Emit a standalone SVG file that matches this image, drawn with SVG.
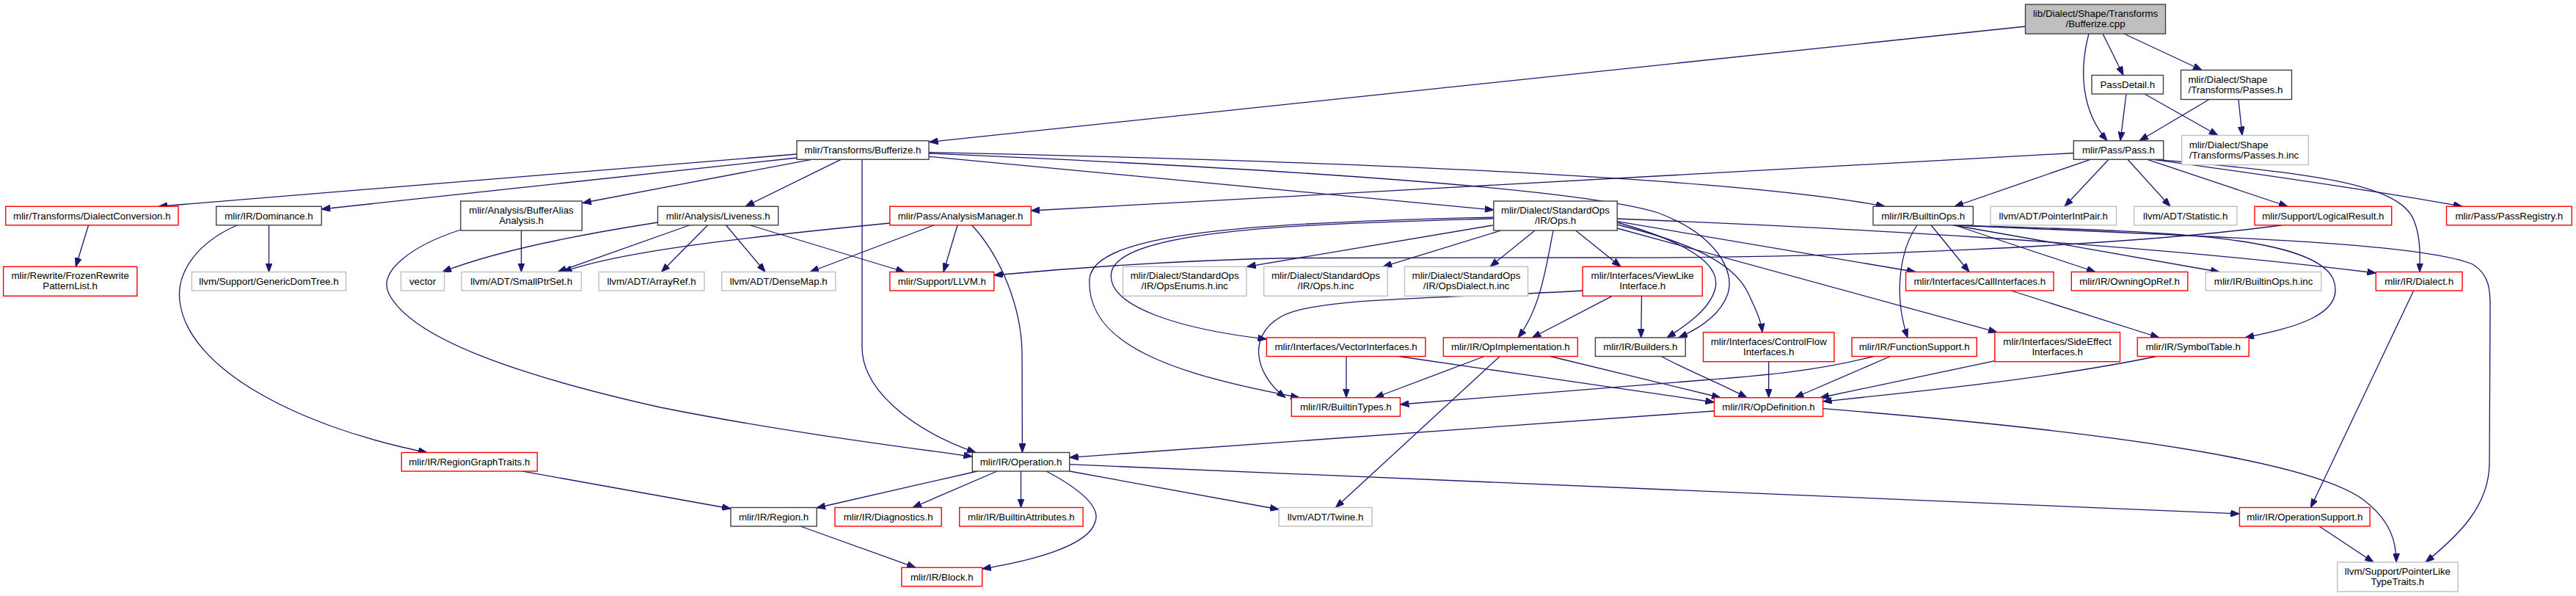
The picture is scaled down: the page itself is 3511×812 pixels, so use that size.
<svg xmlns="http://www.w3.org/2000/svg" width="3511" height="812" viewBox="0 0 3511 812">
<style>
.e{fill:none;stroke:#191970;stroke-width:1.3;marker-end:url(#a)}
rect{fill:#fff;stroke-width:1.4}
.k rect{stroke:#404040}
.r rect{stroke:#ff0000}
.g rect{stroke:#bfbfbf}
.root rect{fill:#bfbfbf;stroke:#404040}
text{font-family:"Liberation Sans",Arial,Helvetica,sans-serif;font-size:13.3px;fill:#000;text-anchor:middle}
text.l{text-anchor:start}
</style>
<defs>
<marker id="a" markerUnits="userSpaceOnUse" markerWidth="12" markerHeight="9" refX="12" refY="4.5" orient="auto" viewBox="0 0 12 9"><path d="M0,0 L12,4.5 L0,9 z" fill="#191970" stroke="#191970" stroke-width="1"/></marker>
</defs>
<rect x="0" y="0" width="3511" height="812" style="fill:#fff;stroke:none"/>
<g id="connectors">
<path class="e" d="M2760.5,36 L1266.5,193.5"/>
<path class="e" d="M2847,46 C2834,95 2836,150 2872,191.7"/>
<path class="e" d="M2866,46 L2894,102.5"/>
<path class="e" d="M2895,46 L3001,95.5"/>
<path class="e" d="M2898,128 L2890,191.7"/>
<path class="e" d="M2923,128 L3023,184.5"/>
<path class="e" d="M3011,135.5 L2916,191.7"/>
<path class="e" d="M3051,135.5 L3056,184.5"/>
<path class="e" d="M2826.3,208.5 L1405.3,287"/>
<path class="e" d="M2849,217.3 L2664,281.25"/>
<path class="e" d="M2874,217.3 L2814,281.25"/>
<path class="e" d="M2900,217.3 L2958,281.25"/>
<path class="e" d="M2927,217.3 L3118,281.25"/>
<path class="e" d="M2935,217.3 C3100,240 3250,262 3356,281.25"/>
<path class="e" d="M2940,217.3 C3150,236 3270,250 3290,300 C3300,325 3298,350 3298,370.5"/>
<path class="e" d="M1086,210 L216,281.25"/>
<path class="e" d="M1086,215 L438.2,285"/>
<path class="e" d="M1106,217.3 L794,276.5"/>
<path class="e" d="M1146,217.3 L1016,281.25"/>
<path class="e" d="M1175,217.3 L1175,473 C1175,530 1240,585 1330,616.5"/>
<path class="e" d="M1266,213.3 L2035.8,286"/>
<path class="e" d="M1266,207.5 Q2300,230 2569,281.25"/>
<path class="e" d="M1266,209 C1700,228 2150,255 2260,290 C2340,320 2365,370 2355,400 C2345,430 2315,448 2288,460"/>
<path class="e" d="M2204,303 C2300,330 2345,360 2338,392 C2332,420 2300,442 2272,460"/>
<path class="e" d="M2035.8,306.7 L1699.6,363.3"/>
<path class="e" d="M2046,314 L1885,363.3"/>
<path class="e" d="M2092,314 L2031,363.3"/>
<path class="e" d="M2147.6,314 L2209,363.3"/>
<path class="e" d="M2117,314 C2108,360 2100,420 2069,460"/>
<path class="e" d="M2035.8,297.7 C1800,305 1530,310 1515,370 C1505,420 1620,450 1726.4,462"/>
<path class="e" d="M2035.8,296 C1700,303 1490,318 1485,380 C1480,470 1600,510 1771,541.75"/>
<path class="e" d="M2204.2,301.7 L2611,370.5"/>
<path class="e" d="M2204.2,306 C2280,325 2360,350 2383,400 C2392,420 2400,435 2402,452.7"/>
<path class="e" d="M2204.2,311 L2722,452.7"/>
<path class="e" d="M2204.2,298 C2500,310 2900,330 3238.3,372"/>
<path class="e" d="M2632,306.75 L2684,370.5"/>
<path class="e" d="M2613,306.75 C2590,340 2580,400 2600,460"/>
<path class="e" d="M2664,306.75 L2856,370.5"/>
<path class="e" d="M2662,306.75 C2900,315 3150,315 3180,380 C3200,430 3120,448 3060,460"/>
<path class="e" d="M2662,306.75 C3000,322 3300,330 3370,360 C3395,375 3394,400 3394,420 L3393,630 C3393,690 3350,730 3306,766"/>
<path class="e" d="M2662,306.75 L3025,370.5"/>
<path class="e" d="M3110,306.75 C2900,335 2500,352 2200,351 L1760,351.5 C1600,355 1450,366 1354.8,375"/>
<path class="e" d="M896.5,303 C800,318 680,340 603,370.5"/>
<path class="e" d="M940,306.75 L760,370.5"/>
<path class="e" d="M964.6,306.75 L901.5,370.5"/>
<path class="e" d="M989.5,306.75 L1043,370.5"/>
<path class="e" d="M1022,306.75 L1233,370.5"/>
<path class="e" d="M710.5,314 L710.5,370.5"/>
<path class="e" d="M628,313 C560,335 515,370 530,400 C560,460 700,510 900,555 C1050,585 1200,605 1325.3,622"/>
<path class="e" d="M323.4,306.75 C270,330 240,370 245,410 C255,500 400,580 582,616.5"/>
<path class="e" d="M366.5,306.75 L366.5,370.5"/>
<path class="e" d="M120.6,306.75 L103.3,363.3"/>
<path class="e" d="M1212.8,304 C1050,320 850,340 767.5,370.5"/>
<path class="e" d="M1273,306.75 L1104,370.5"/>
<path class="e" d="M1305,306.75 L1286,370.5"/>
<path class="e" d="M1324.6,306.75 C1365,350 1392,420 1393,480 L1393.4,616.5"/>
<path class="e" d="M1332,642 L1113,692"/>
<path class="e" d="M1359,642 L1244,691.5"/>
<path class="e" d="M1391.5,642 L1391.5,691.5"/>
<path class="e" d="M1426,642 C1470,665 1500,690 1493,710 C1485,745 1400,765 1338.7,775"/>
<path class="e" d="M1458,642 L1743,694"/>
<path class="e" d="M1457.7,632.7 L3052.4,700"/>
<path class="e" d="M1091,717 L1248,773.3"/>
<path class="e" d="M710,641.7 L996,693"/>
<path class="e" d="M2336.5,560 L1457.7,623.3"/>
<path class="e" d="M2484.6,556.7 C2900,590 3150,630 3220,680 C3260,710 3266,740 3266,766"/>
<path class="e" d="M3289.7,396 L3149.4,691.5"/>
<path class="e" d="M3161,717 L3235,766"/>
<path class="e" d="M2939,485.5 C2800,515 2600,535 2484.6,547"/>
<path class="e" d="M2718.8,491.7 L2481,541.75"/>
<path class="e" d="M2576.4,485.5 L2446.3,541.75"/>
<path class="e" d="M2410.7,492.7 L2410.7,541.75"/>
<path class="e" d="M2264.3,485.5 C2300,505 2340,520 2381,541.75"/>
<path class="e" d="M2113,485.5 L2345,541.75"/>
<path class="e" d="M1906.5,485.5 L2336.5,548"/>
<path class="e" d="M2741,396 L2943,460"/>
<path class="e" d="M2553.4,485.5 C2480,505 2400,512 2320,518 L1908.4,551"/>
<path class="e" d="M2197.3,403.3 L2088.3,460"/>
<path class="e" d="M2237.5,403.3 L2236.7,460"/>
<path class="e" d="M2157,396 C1950,408 1790,405 1745,432 C1700,458 1710,510 1752,541.75"/>
<path class="e" d="M1834.9,485.5 L1834.9,541.75"/>
<path class="e" d="M2023.2,485.5 L1874,541.75"/>
<path class="e" d="M2044.2,485.5 L1820.4,691.5"/>
</g>
<g id="n_root" class="root"><rect x="2760.5" y="6" width="191" height="40"/><text x="2856" y="23">lib/Dialect/Shape/Transforms</text><text x="2856" y="37">/Bufferize.cpp</text></g>
<g id="n_passdetail" class="k"><rect x="2851" y="102.5" width="97.5" height="25.5"/><text x="2899.8" y="120">PassDetail.h</text></g>
<g id="n_passes" class="k"><rect x="2972.5" y="95.5" width="151" height="40"/><text class="l" x="2982.5" y="112.5">mlir/Dialect/Shape</text><text class="l" x="2982.5" y="126.5">/Transforms/Passes.h</text></g>
<g id="n_bufferize_h" class="k"><rect x="1086" y="191.75" width="180" height="25.5"/><text x="1176" y="209.2">mlir/Transforms/Bufferize.h</text></g>
<g id="n_pass_h" class="k"><rect x="2826.3" y="191.75" width="122.4" height="25.5"/><text x="2887.5" y="209.2">mlir/Pass/Pass.h</text></g>
<g id="n_passes_inc" class="g"><rect x="2973.7" y="184.5" width="172.6" height="40"/><text class="l" x="2983.7" y="201.5">mlir/Dialect/Shape</text><text class="l" x="2983.7" y="215.5">/Transforms/Passes.h.inc</text></g>
<g id="n_dialectconv" class="r"><rect x="7.7" y="281.25" width="235.3" height="25.5"/><text x="125.35" y="298.7">mlir/Transforms/DialectConversion.h</text></g>
<g id="n_dominance" class="k"><rect x="294.7" y="281.25" width="143.5" height="25.5"/><text x="366.45" y="298.7">mlir/IR/Dominance.h</text></g>
<g id="n_bufferalias" class="k"><rect x="627.8" y="274" width="165.4" height="40"/><text x="710.5" y="291">mlir/Analysis/BufferAlias</text><text x="710.5" y="305">Analysis.h</text></g>
<g id="n_liveness" class="k"><rect x="896.5" y="281.25" width="164.2" height="25.5"/><text x="978.6" y="298.7">mlir/Analysis/Liveness.h</text></g>
<g id="n_analysismgr" class="r"><rect x="1212.8" y="281.25" width="192.5" height="25.5"/><text x="1309.05" y="298.7">mlir/Pass/AnalysisManager.h</text></g>
<g id="n_stdops" class="k"><rect x="2035.8" y="274" width="168.4" height="40"/><text x="2120" y="291">mlir/Dialect/StandardOps</text><text x="2120" y="305">/IR/Ops.h</text></g>
<g id="n_builtinops" class="k"><rect x="2553" y="281.25" width="136.3" height="25.5"/><text x="2621.15" y="298.7">mlir/IR/BuiltinOps.h</text></g>
<g id="n_pointerintpair" class="g"><rect x="2713" y="281.25" width="171.5" height="25.5"/><text x="2798.75" y="298.7">llvm/ADT/PointerIntPair.h</text></g>
<g id="n_statistic" class="g"><rect x="2908.6" y="281.25" width="140.3" height="25.5"/><text x="2978.75" y="298.7">llvm/ADT/Statistic.h</text></g>
<g id="n_logicalresult" class="r"><rect x="3073" y="281.25" width="186.7" height="25.5"/><text x="3166.35" y="298.7">mlir/Support/LogicalResult.h</text></g>
<g id="n_passregistry" class="r"><rect x="3334.5" y="281.25" width="170.7" height="25.5"/><text x="3419.85" y="298.7">mlir/Pass/PassRegistry.h</text></g>
<g id="n_frozen" class="r"><rect x="4.6" y="363.3" width="182.2" height="40"/><text x="95.7" y="380.3">mlir/Rewrite/FrozenRewrite</text><text x="95.7" y="394.3">PatternList.h</text></g>
<g id="n_genericdomtree" class="g"><rect x="261.4" y="370.5" width="210.1" height="25.5"/><text x="366.45" y="388">llvm/Support/GenericDomTree.h</text></g>
<g id="n_vector" class="g"><rect x="546.5" y="370.5" width="59.1" height="25.5"/><text x="576.05" y="388">vector</text></g>
<g id="n_smallptrset" class="g"><rect x="629" y="370.5" width="163.4" height="25.5"/><text x="710.7" y="388">llvm/ADT/SmallPtrSet.h</text></g>
<g id="n_arrayref" class="g"><rect x="816.1" y="370.5" width="143.9" height="25.5"/><text x="888.05" y="388">llvm/ADT/ArrayRef.h</text></g>
<g id="n_densemap" class="g"><rect x="983.7" y="370.5" width="155" height="25.5"/><text x="1061.2" y="388">llvm/ADT/DenseMap.h</text></g>
<g id="n_llvm_h" class="r"><rect x="1212.8" y="370.5" width="142" height="25.5"/><text x="1283.8" y="388">mlir/Support/LLVM.h</text></g>
<g id="n_opsenums" class="g"><rect x="1530.5" y="363.3" width="168.3" height="40"/><text x="1614.65" y="380.3">mlir/Dialect/StandardOps</text><text x="1614.65" y="394.3">/IR/OpsEnums.h.inc</text></g>
<g id="n_opsinc" class="g"><rect x="1722.6" y="363.3" width="168.6" height="40"/><text x="1806.9" y="380.3">mlir/Dialect/StandardOps</text><text x="1806.9" y="394.3">/IR/Ops.h.inc</text></g>
<g id="n_opsdialect" class="g"><rect x="1914.5" y="363.3" width="168" height="40"/><text x="1998.5" y="380.3">mlir/Dialect/StandardOps</text><text x="1998.5" y="394.3">/IR/OpsDialect.h.inc</text></g>
<g id="n_viewlike" class="r"><rect x="2157.1" y="363.3" width="163.1" height="40"/><text x="2238.65" y="380.3">mlir/Interfaces/ViewLike</text><text x="2238.65" y="394.3">Interface.h</text></g>
<g id="n_callinterfaces" class="r"><rect x="2597.5" y="370.5" width="201.6" height="25.5"/><text x="2698.3" y="388">mlir/Interfaces/CallInterfaces.h</text></g>
<g id="n_owningopref" class="r"><rect x="2823.3" y="370.5" width="158.5" height="25.5"/><text x="2902.55" y="388">mlir/IR/OwningOpRef.h</text></g>
<g id="n_builtinopsinc" class="g"><rect x="3006.4" y="370.5" width="157.4" height="25.5"/><text x="3085.1" y="388">mlir/IR/BuiltinOps.h.inc</text></g>
<g id="n_dialect_h" class="r"><rect x="3238.3" y="370.5" width="117.7" height="25.5"/><text x="3297.15" y="388">mlir/IR/Dialect.h</text></g>
<g id="n_vectorinterfaces" class="r"><rect x="1726.4" y="460" width="216.4" height="25.5"/><text x="1834.6" y="477.4">mlir/Interfaces/VectorInterfaces.h</text></g>
<g id="n_opimpl" class="r"><rect x="1967.3" y="460" width="183" height="25.5"/><text x="2058.8" y="477.4">mlir/IR/OpImplementation.h</text></g>
<g id="n_builders" class="k"><rect x="2174.4" y="460" width="122.8" height="25.5"/><text x="2235.8" y="477.4">mlir/IR/Builders.h</text></g>
<g id="n_controlflow" class="r"><rect x="2321.5" y="452.7" width="178.4" height="40"/><text x="2410.7" y="469.7">mlir/Interfaces/ControlFlow</text><text x="2410.7" y="483.7">Interfaces.h</text></g>
<g id="n_functionsupport" class="r"><rect x="2524" y="460" width="170.3" height="25.5"/><text x="2609.15" y="477.4">mlir/IR/FunctionSupport.h</text></g>
<g id="n_sideeffect" class="r"><rect x="2718.8" y="452.7" width="170.7" height="40"/><text x="2804.15" y="469.7">mlir/Interfaces/SideEffect</text><text x="2804.15" y="483.7">Interfaces.h</text></g>
<g id="n_symboltable" class="r"><rect x="2913.2" y="460" width="152" height="25.5"/><text x="2989.2" y="477.4">mlir/IR/SymbolTable.h</text></g>
<g id="n_builtintypes" class="r"><rect x="1760.3" y="541.75" width="148.1" height="25.5"/><text x="1834.35" y="559.2">mlir/IR/BuiltinTypes.h</text></g>
<g id="n_opdefinition" class="r"><rect x="2336.5" y="541.75" width="148.1" height="25.5"/><text x="2410.55" y="559.2">mlir/IR/OpDefinition.h</text></g>
<g id="n_regiongraphtraits" class="r"><rect x="547.3" y="616.5" width="185" height="25.5"/><text x="639.8" y="634">mlir/IR/RegionGraphTraits.h</text></g>
<g id="n_operation" class="k"><rect x="1325.3" y="616.5" width="132.4" height="25.5"/><text x="1391.5" y="634">mlir/IR/Operation.h</text></g>
<g id="n_region" class="k"><rect x="996" y="691.5" width="117.1" height="25.5"/><text x="1054.55" y="708.9">mlir/IR/Region.h</text></g>
<g id="n_diagnostics" class="r"><rect x="1138" y="691.5" width="145.2" height="25.5"/><text x="1210.6" y="708.9">mlir/IR/Diagnostics.h</text></g>
<g id="n_builtinattributes" class="r"><rect x="1307.7" y="691.5" width="168.4" height="25.5"/><text x="1391.9" y="708.9">mlir/IR/BuiltinAttributes.h</text></g>
<g id="n_twine" class="g"><rect x="1743.1" y="691.5" width="127" height="25.5"/><text x="1806.6" y="708.9">llvm/ADT/Twine.h</text></g>
<g id="n_operationsupport" class="r"><rect x="3052.4" y="691.5" width="177.7" height="25.5"/><text x="3141.25" y="708.9">mlir/IR/OperationSupport.h</text></g>
<g id="n_block" class="r"><rect x="1228.9" y="773.3" width="109.8" height="25.5"/><text x="1283.8" y="790.8">mlir/IR/Block.h</text></g>
<g id="n_pointerlike" class="g"><rect x="3185.7" y="766" width="164.4" height="40"/><text x="3267.9" y="783">llvm/Support/PointerLike</text><text x="3267.9" y="797">TypeTraits.h</text></g>
</svg>
